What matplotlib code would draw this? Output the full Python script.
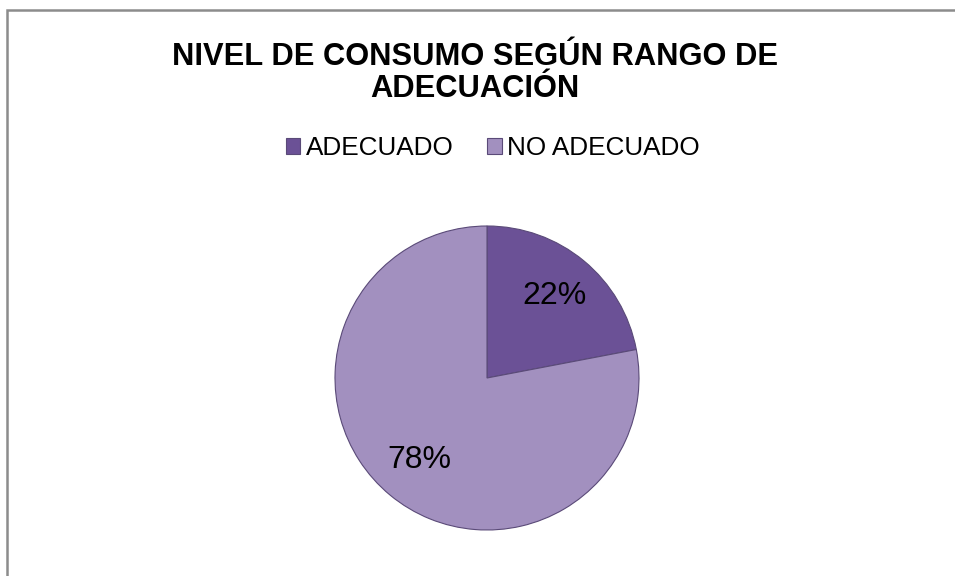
import matplotlib

matplotlib.use("Agg")
import matplotlib.pyplot as plt
from matplotlib.patches import Rectangle

plt.rcParams["font.family"] = ["Liberation Sans", "DejaVu Sans"]

# data
categories = ["ADECUADO", "NO ADECUADO"]
shares = [22, 78]
title = "NIVEL DE CONSUMO SEGÚN RANGO DE\nADECUACIÓN"

_COLORS = ["#6b5196", "#a290bf"]
_EDGE = "#5a4a78"

W, H, DPI = 955, 576, 100
fig = plt.figure(figsize=(W / DPI, H / DPI), dpi=DPI, facecolor="white")

# chart frame (only left/top edges visible in the crop)
fig.patches.append(Rectangle(
    (7 / W, -0.05), 1.2, (H - 10) / H + 0.05, transform=fig.transFigure,
    fill=False, edgecolor="#8c8c8c", linewidth=1.8, zorder=0,
))

# pie axes: centre (487, 378) px, radius 152 px
cx, cy, r = 487, 378, 152
ax = fig.add_axes([(cx - r) / W, (H - cy - r) / H, 2 * r / W, 2 * r / H])
wedges, texts, autotexts = ax.pie(
    shares,
    colors=_COLORS,
    startangle=90,
    counterclock=False,
    autopct="%1.0f%%",
    pctdistance=0.7,
    wedgeprops=dict(edgecolor=_EDGE, linewidth=0.8),
    textprops=dict(fontsize=23, color="black"),
)
ax.set_xlim(-1, 1)
ax.set_ylim(-1, 1)
ax.set_aspect("auto")
ax.axis("off")

fig.text(0.497, 1 - 73 / H, title, ha="center", va="center",
         fontsize=22.2, fontweight="bold", color="black", linespacing=1.05)

leg = fig.legend(
    wedges, categories, loc="center", bbox_to_anchor=(0.516, 1 - 148 / H),
    ncol=2, frameon=False, fontsize=18.8, handlelength=0.55, handleheight=0.55,
    handletextpad=0.2, columnspacing=1.3,
)

fig.savefig("out.png", dpi=DPI, facecolor="white")
plt.close(fig)
